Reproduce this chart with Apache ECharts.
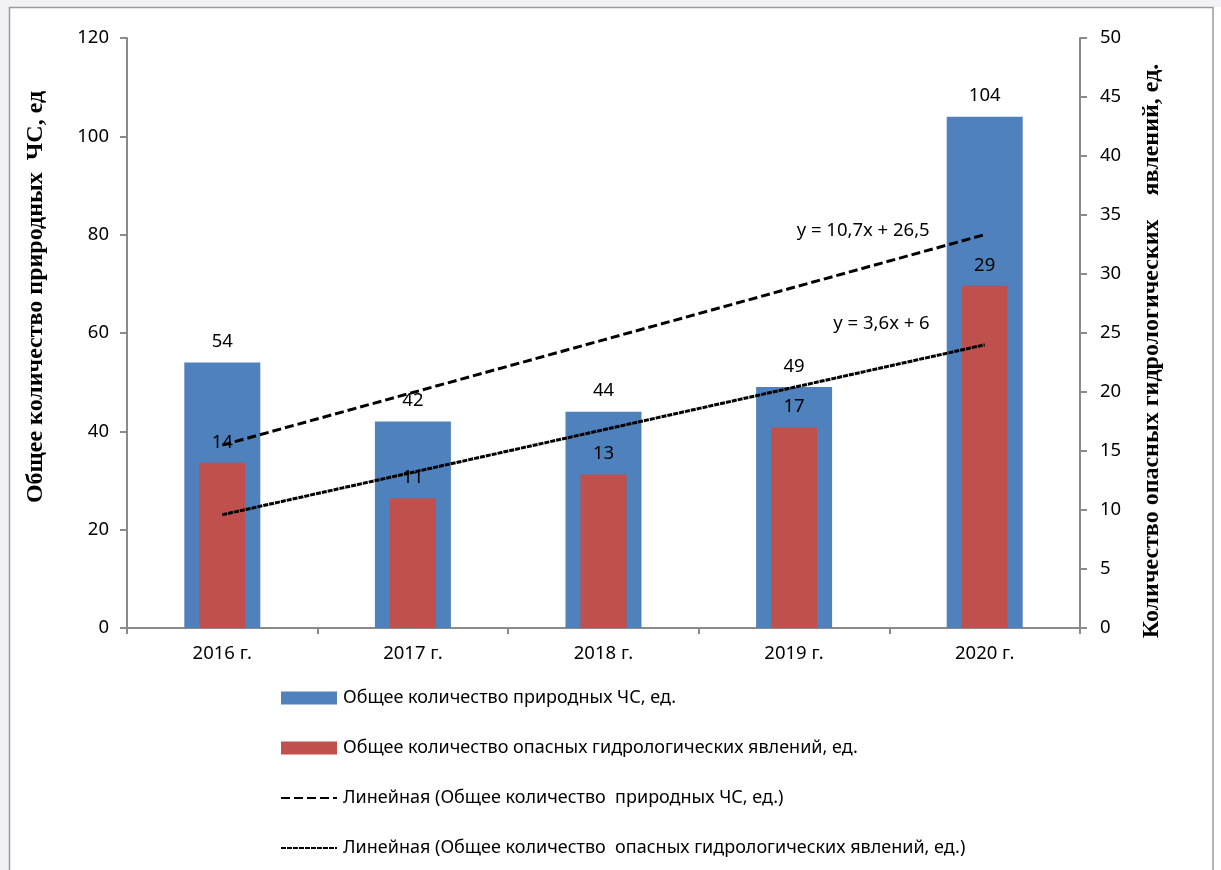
<!DOCTYPE html>
<html>
<head>
<meta charset="utf-8">
<script src="https://cdn.jsdelivr.net/npm/echarts@6/dist/echarts.min.js"></script>
<style>
html,body{margin:0;padding:0;background:#fff;}
#chart{width:1221px;height:870px;}
</style>
</head>
<body>
<div id="chart"></div>
<script>
var categories = ['2016 г.', '2017 г.', '2018 г.', '2019 г.', '2020 г.'];
var totalEmergencies = [54, 42, 44, 49, 104];
var hydroEvents = [14, 11, 13, 17, 29];
var trendTotal = [37.2, 47.9, 58.6, 69.3, 80.0];
var trendHydro = [9.6, 13.2, 16.8, 20.4, 24.0];
var leftTicks = {min: 0, max: 120, interval: 20};
var rightTicks = {min: 0, max: 50, interval: 5};
var seriesNames = [
  'Общее количество природных ЧС, ед.',
  'Общее количество опасных гидрологических явлений, ед.',
  'Линейная (Общее количество  природных ЧС, ед.)',
  'Линейная (Общее количество  опасных гидрологических явлений, ед.)'
];
var eqTotal = 'y = 10,7x + 26,5';
var eqHydro = 'y = 3,6x + 6';
var leftName = 'Общее количество природных  ЧС, ед';
var rightName = 'Количество опасных гидрологических    явлений, ед.';

var FONT = 'Noto Sans';
var FS = 18.5;
var axisColor = '#8a8a8a';
var chart = echarts.init(document.getElementById('chart'), null, {renderer: 'canvas'});

var yAxisCommon = {
  type: 'value',
  splitLine: {show: false},
  axisLine: {show: true, lineStyle: {color: axisColor, width: 2}},
  axisTick: {show: true, length: 7, lineStyle: {color: axisColor, width: 2}},
  axisLabel: {color: '#000', fontFamily: FONT, fontSize: FS, margin: 18}
};

var option = {
  animation: false,
  backgroundColor: '#fff',
  textStyle: {fontFamily: FONT},
  grid: {left: 127, right: 141, top: 38, bottom: 242, containLabel: false},
  xAxis: [{
    type: 'category',
    data: categories,
    position: 'bottom',
    axisLine: {show: true, lineStyle: {color: axisColor, width: 2}},
    axisTick: {show: true, length: 6, lineStyle: {color: axisColor, width: 2}},
    axisLabel: {color: '#000', fontFamily: FONT, fontSize: FS, margin: 16}
  }, {
    type: 'category',
    data: categories,
    position: 'bottom',
    show: false
  }],
  yAxis: [
    Object.assign({}, yAxisCommon, leftTicks, {position: 'left'}),
    Object.assign({}, yAxisCommon, rightTicks, {position: 'right', axisLabel: Object.assign({}, yAxisCommon.axisLabel, {margin: 20})})
  ],
  legend: {
    orient: 'vertical',
    left: 280,
    top: 689,
    padding: 0,
    itemWidth: 56,
    itemHeight: 13,
    itemGap: 32,
    textStyle: {color: '#000', fontFamily: FONT, fontSize: 18, lineHeight: 18, padding: [0, 0, 0, 1]},
    data: [
      {name: seriesNames[0], icon: 'rect'},
      {name: seriesNames[1], icon: 'rect'},
      {name: seriesNames[2], itemStyle: {opacity: 0}},
      {name: seriesNames[3], itemStyle: {opacity: 0}}
    ]
  },
  series: [{
    name: seriesNames[0],
    type: 'bar',
    xAxisIndex: 0,
    yAxisIndex: 0,
    barWidth: 76,
    data: totalEmergencies,
    itemStyle: {color: '#4f81bd'},
    label: {show: true, position: 'top', distance: 11, color: '#000', fontFamily: FONT, fontSize: FS}
  }, {
    name: seriesNames[1],
    type: 'bar',
    xAxisIndex: 1,
    yAxisIndex: 1,
    barWidth: 46,
    data: hydroEvents,
    itemStyle: {color: '#c0504d'},
    label: {show: true, position: 'top', distance: 11, color: '#000', fontFamily: FONT, fontSize: FS}
  }, {
    name: seriesNames[2],
    type: 'line',
    xAxisIndex: 0,
    yAxisIndex: 0,
    data: trendTotal,
    symbol: 'none',
    itemStyle: {color: '#000'},
    lineStyle: {color: '#000', width: 3, type: [9, 4]},
    endLabel: {show: true, formatter: eqTotal, color: '#000', fontFamily: FONT, fontSize: FS, align: 'right', distance: 0, offset: [-55, -4]},
    z: 5
  }, {
    name: seriesNames[3],
    type: 'line',
    xAxisIndex: 0,
    yAxisIndex: 1,
    data: trendHydro,
    symbol: 'none',
    itemStyle: {color: '#000'},
    lineStyle: {color: '#000', width: 3, type: [5, 1]},
    endLabel: {show: true, formatter: eqHydro, color: '#000', fontFamily: FONT, fontSize: FS, align: 'right', distance: 0, offset: [-55, -21]},
    z: 5
  }],
  graphic: [
    {type: 'rect', silent: true, z: -10, shape: {x: 0, y: 0, width: 1221, height: 7}, style: {fill: '#f2f2f6'}},
    {type: 'rect', silent: true, z: -10, shape: {x: 0, y: 0, width: 9, height: 870}, style: {fill: '#f2f2f6'}},
    {type: 'rect', silent: true, z: -9, shape: {x: 9.5, y: 7.5, width: 1203.5, height: 900}, style: {fill: 'none', stroke: '#9a9a9a', lineWidth: 1.5}},
    {type: 'text', silent: true, x: 36, y: 297, rotation: Math.PI / 2,
     style: {text: leftName, fill: '#000', font: 'bold 24px "Liberation Serif"', textAlign: 'center', textVerticalAlign: 'middle'}},
    {type: 'text', silent: true, x: 1152, y: 351, rotation: Math.PI / 2,
     style: {text: rightName, fill: '#000', font: 'bold 24px "Liberation Serif"', textAlign: 'center', textVerticalAlign: 'middle'}}
  ]
};
chart.setOption(option);
</script>
</body>
</html>
